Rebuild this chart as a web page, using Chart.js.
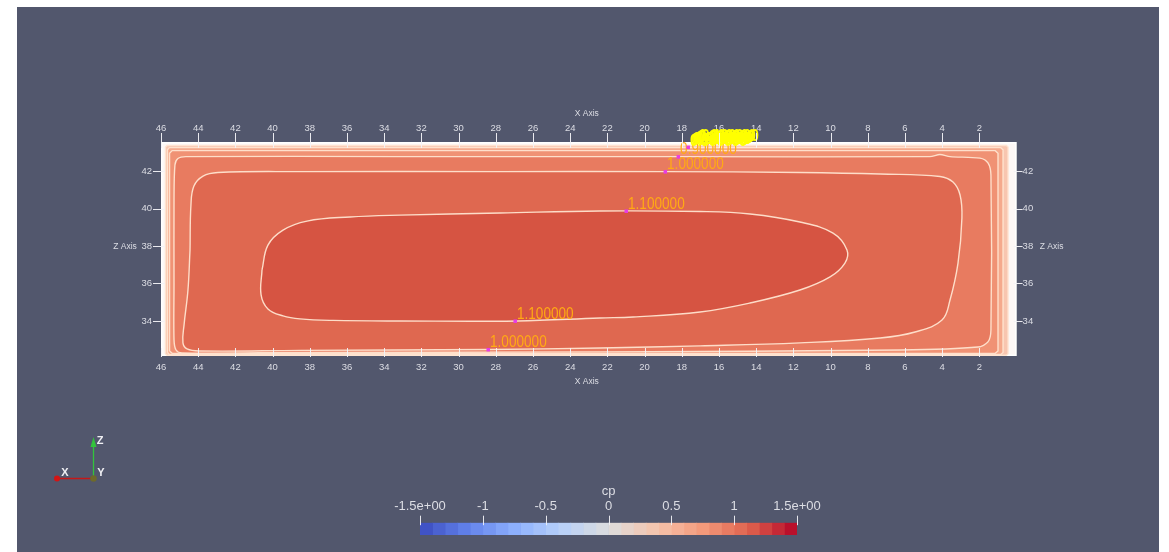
<!DOCTYPE html>
<html><head><meta charset="utf-8">
<script src="https://cdn.jsdelivr.net/npm/chart.js@4.4.1/dist/chart.umd.min.js"></script>
<style>
html,body{margin:0;padding:0;background:#ffffff;width:1169px;height:552px;overflow:hidden;}
#panel{position:absolute;left:17px;top:7px;width:1142px;height:545px;background:#52576d;}
#main{position:absolute;left:0;top:0;}
#cbar{position:absolute;left:370px;top:480px;}
</style></head><body>
<div id="panel"></div>
<canvas id="main" width="1169" height="552"></canvas>
<canvas id="cbar" width="480" height="60"></canvas>
<script>
// ---------------- data ----------------
const xTickValues = [46,44,42,40,38,36,34,32,30,28,26,24,22,20,18,16,14,12,10,8,6,4,2];
const zTickValues = [34,36,38,40,42];
const xRange = [0, 46];
const zRange = [32.13, 43.55];

const domainOutline = [[46,32.13],[46,43.55],[0,43.55],[0,32.13],[46,32.13]];
const contour06 = [[45.76,32.25],[45.76,43.28],[45.68,43.36],[0.55,43.36],[0.46,43.28],[0.46,32.25],[0.55,32.17],[45.68,32.17],[45.76,32.25]];
const contour07 = [[45.65,32.32],[45.65,43.14],[45.55,43.25],[0.85,43.25],[0.73,43.14],[0.73,32.32],[0.85,32.21],[45.55,32.21],[45.65,32.32]];
const contour08 = [[45.54,32.40],[45.54,42.95],[45.40,43.09],[1.15,43.09],[1.00,42.95],[1.00,32.40],[1.15,32.27],[45.40,32.27],[45.54,32.40]];
const contour09 = [[45.30,36.00],[45.30,40.45],[45.25,42.32],[45.09,42.67],[44.66,42.77],[33.15,42.77],[18.20,42.77],[4.66,42.77],[4.12,42.88],[3.58,42.77],[1.97,42.69],[1.54,42.43],[1.38,41.79],[1.38,33.52],[1.54,32.88],[2.08,32.61],[6.27,32.45],[22.40,32.35],[38.53,32.32],[44.87,32.29],[45.19,32.45],[45.30,32.99],[45.30,36.00]];
const contour10 = [[44.44,37.79],[44.39,40.19],[44.23,41.20],[43.74,41.73],[42.94,41.92],[38.53,41.97],[27.77,41.97],[18.90,41.97],[11.65,41.92],[7.34,41.84],[4.12,41.71],[3.42,41.41],[3.04,40.72],[2.94,39.49],[3.15,37.09],[3.58,35.12],[4.01,34.05],[5.46,33.41],[7.34,33.09],[11.65,32.83],[17.02,32.67],[22.40,32.56],[28.42,32.48],[38.53,32.43],[43.90,32.40],[44.60,32.51],[44.82,32.83],[44.76,33.79],[44.55,35.65],[44.44,37.79]];
const contour11 = [[40.57,36.72],[40.25,38.05],[39.44,38.85],[38.15,39.33],[35.84,39.55],[33.15,39.65],[27.77,39.76],[22.40,39.87],[17.02,39.84],[14.33,39.71],[11.65,39.28],[9.87,38.69],[9.12,37.79],[9.23,37.09],[10.03,36.35],[11.65,35.65],[14.33,34.96],[17.02,34.48],[20.62,34.21],[22.40,34.16],[26.86,34.00],[33.15,34.00],[36.75,34.03],[38.53,34.11],[39.44,34.27],[40.25,34.64],[40.62,35.39],[40.57,36.72]];

const labelTexts = ['1.100000','1.000000','1.100000','1.000000','0.900000'];
const labelX = [21.00, 18.90, 26.97, 28.42, 18.20];
const labelZ = [39.87, 41.97, 34.00, 32.48, 42.77];
const stackedLabelTexts = ['0.800000','0.700000','0.600000','0.500000','0.400000','0.300000','0.200000','0.100000'];
const stackedLabelX = [17.67, 17.59, 17.51, 17.42, 17.34, 17.26, 17.18, 17.02];
const stackedLabelZ = [43.28, 43.31, 43.34, 43.38, 43.42, 43.46, 43.50, 43.55];

const cpBinEdges = [-1.5,-1.4,-1.3,-1.2,-1.1,-1.0,-0.9,-0.8,-0.7,-0.6,-0.5,-0.4,-0.3,-0.2,-0.1,0,0.1,0.2,0.3,0.4,0.5,0.6,0.7,0.8,0.9,1.0,1.1,1.2,1.3,1.4,1.5];
const cpTickValues = [-1.5,-1,-0.5,0,0.5,1,1.5];
const cpTickLabels = ['-1.5e+00','-1','-0.5','0','0.5','1','1.5e+00'];

// ---------------- style ----------------
const FONT = '"Liberation Sans", Arial, sans-serif';
Chart.defaults.font.family = FONT;
const TEXT = '#dcdde4';
const LINE = 'rgba(255,228,208,0.95)';
const cmapStops = [[0,[59,76,192]],[0.125,[98,130,234]],[0.25,[141,176,254]],[0.375,[184,208,249]],[0.5,[221,221,221]],[0.625,[245,196,173]],[0.75,[244,154,123]],[0.875,[222,96,77]],[1,[180,4,38]]];
function cmap(t){
  for (let i=1;i<cmapStops.length;i++){
    const [t1,c1]=cmapStops[i]; const [t0,c0]=cmapStops[i-1];
    if (t<=t1){ const f=(t-t0)/(t1-t0); return 'rgb('+c0.map((c,k)=>Math.round(c+(c1[k]-c)*f)).join(',')+')'; }
  }
  return 'rgb(180,4,38)';
}

const pts = arr => arr.map(p => ({x:p[0], y:p[1]}));
const layers = [
  {d:contour11, c:'rgb(214,84,66)', t:0.4, o:1},
  {d:contour10, c:'rgb(223,104,80)', t:0.4, o:2},
  {d:contour09, c:'rgb(232,123,96)', t:0.3, o:3},
  {d:contour08, c:'rgb(240,146,116)', t:0, o:4},
  {d:contour07, c:'rgb(245,170,141)', t:0, o:5},
  {d:contour06, c:'rgb(248,198,176)', t:0, o:6},
  {d:domainOutline, c:'#fdf8f6', t:0, o:7, b:'#ffffff', w:3}
];

function axisX(pos, size, pad){
  return {type:'linear', axis:'x', position:pos, min:xRange[0], max:xRange[1], reverse:true,
    afterBuildTicks:s=>{s.ticks = xTickValues.map(v=>({value:v}));},
    afterFit:s=>{s.height = size;},
    grid:{display:false, drawTicks:false, tickLength:0}, border:{display:false},
    ticks:{stepSize:2, color:TEXT, font:{size:9.5}, padding:pad, maxRotation:0, autoSkip:false, callback:v=>String(v)}};
}
function axisZ(pos, size, pad){
  return {type:'linear', axis:'y', position:pos, min:zRange[0], max:zRange[1],
    afterBuildTicks:s=>{s.ticks = zTickValues.map(v=>({value:v}));},
    afterFit:s=>{s.width = size;},
    grid:{display:false, drawTicks:false, tickLength:0}, border:{display:false},
    ticks:{stepSize:2, color:TEXT, font:{size:9.5}, padding:pad, autoSkip:false, callback:v=>String(v)}};
}

function drawScaledText(ctx, txt, x, y, font, sx){
  ctx.save(); ctx.translate(x,y); ctx.scale(sx,1); ctx.font=font; ctx.fillText(txt,0,0); ctx.restore();
}

const overlay = {
  id:'overlay',
  afterDatasetsDraw(chart){
    const {ctx, scales:{x, y}} = chart;
    ctx.save();
    ctx.textAlign='left'; ctx.textBaseline='alphabetic';
    labelTexts.forEach((t,i)=>{
      const px=x.getPixelForValue(labelX[i]), py=y.getPixelForValue(labelZ[i]);
      ctx.fillStyle='#ffaa14';
      drawScaledText(ctx, t, px+2, py-2.4, '16px '+FONT, 0.85);
      ctx.fillStyle='#e63ce6'; ctx.fillRect(px-1.5, py-1.5, 3.5, 3.5);
    });
    ctx.fillStyle='#ffff00';
    stackedLabelTexts.forEach((t,i)=>{
      const px=x.getPixelForValue(stackedLabelX[i]), py=y.getPixelForValue(stackedLabelZ[i]);
      drawScaledText(ctx, t, px+2, py-1.5, 'bold 16px '+FONT, 0.85);
    });
    const p0x=x.getPixelForValue(stackedLabelX[0]), p0y=y.getPixelForValue(stackedLabelZ[0]);
    ctx.fillStyle='#e63ce6'; ctx.fillRect(p0x-1.5, p0y-1.5, 3.5, 3.5);
    ctx.restore();
  },
  afterDraw(chart){
    const {ctx, chartArea:a, scales:{x, y}} = chart;
    ctx.save();
    ctx.strokeStyle='rgba(242,242,247,0.95)'; ctx.lineWidth=1;
    ctx.beginPath();
    xTickValues.forEach(v=>{
      const p=Math.round(x.getPixelForValue(v))+0.5;
      ctx.moveTo(p,a.top-9); ctx.lineTo(p,a.top+6);
      ctx.moveTo(p,a.bottom-8); ctx.lineTo(p,a.bottom+1);
    });
    zTickValues.forEach(v=>{
      const p=Math.round(y.getPixelForValue(v))+0.5;
      ctx.moveTo(a.left-8,p); ctx.lineTo(a.left+4,p);
      ctx.moveTo(a.right-3,p); ctx.lineTo(a.right+6,p);
    });
    ctx.stroke();
    ctx.fillStyle=TEXT; ctx.font='8.5px '+FONT; ctx.textAlign='center'; ctx.textBaseline='middle';
    const cx=(a.left+a.right)/2, cy=(a.top+a.bottom)/2;
    ctx.fillText('X Axis', cx-2, a.top-28);
    ctx.fillText('X Axis', cx-2, a.bottom+26);
    ctx.fillText('Z Axis', a.left-36, cy-2);
    ctx.fillText('Z Axis', a.right+35, cy-2);
    // orientation triad (decoration)
    const ox=93.5, oy=478.5;
    ctx.lineWidth=1.3;
    ctx.strokeStyle='#33c43c'; ctx.beginPath(); ctx.moveTo(ox,oy); ctx.lineTo(ox,444); ctx.stroke();
    ctx.fillStyle='#33c43c'; ctx.beginPath(); ctx.moveTo(ox-3,447); ctx.lineTo(ox,437); ctx.lineTo(ox+3,447); ctx.closePath(); ctx.fill();
    ctx.strokeStyle='#c41818'; ctx.beginPath(); ctx.moveTo(ox,oy); ctx.lineTo(58,oy); ctx.stroke();
    ctx.fillStyle='#d41414'; ctx.beginPath(); ctx.arc(57,oy,3,0,Math.PI*2); ctx.fill();
    ctx.fillStyle='#6e6a2a'; ctx.beginPath(); ctx.arc(ox,oy,3.2,0,Math.PI*2); ctx.fill();
    ctx.fillStyle='#f0f0f4'; ctx.font='bold 11px '+FONT;
    ctx.fillText('Z', 100, 441); ctx.fillText('X', 65, 473); ctx.fillText('Y', 101, 473);
    ctx.restore();
  }
};

new Chart(document.getElementById('main'), {
  type:'line',
  data:{datasets: layers.map(L=>({
    data: pts(L.d), xAxisID:'x', yAxisID:'y', order:L.o,
    fill:'shape', backgroundColor:L.c, borderColor:L.b||LINE, borderWidth:L.w||1.4,
    tension:L.t, pointRadius:0
  }))},
  options:{
    responsive:false, animation:false, events:[],
    layout:{padding:0},
    plugins:{legend:{display:false}, tooltip:{enabled:false}},
    scales:{
      x: axisX('top', 142, 7.6),
      x2: axisX('bottom', 196, 5.6),
      y: axisZ('left', 161, 9),
      y2: axisZ('right', 152.4, 6)
    }
  },
  plugins:[overlay]
});

// ---------------- colour bar ----------------
const cbTicks = {
  id:'cbTicks',
  afterDraw(chart){
    const {ctx, chartArea:a, scales:{x}} = chart;
    ctx.save(); ctx.strokeStyle='rgba(238,238,243,0.95)'; ctx.lineWidth=1; ctx.beginPath();
    cpTickValues.forEach(v=>{const p=Math.round(x.getPixelForValue(v))+0.5; ctx.moveTo(p,a.top-7); ctx.lineTo(p,a.top+2.5);});
    ctx.stroke(); ctx.restore();
  }
};
new Chart(document.getElementById('cbar'), {
  type:'bar',
  data:{labels:['cp'], datasets: cpBinEdges.slice(0,-1).map((lo,i)=>({
    data:[[lo, cpBinEdges[i+1]]],
    backgroundColor: cmap(((lo+cpBinEdges[i+1])/2+1.5)/3),
    borderWidth:0, grouped:false, barPercentage:1, categoryPercentage:1
  }))},
  options:{
    indexAxis:'y', responsive:false, animation:false, events:[],
    layout:{padding:{left:50, right:53, top:0, bottom:5}},
    plugins:{legend:{display:false}, tooltip:{enabled:false}},
    scales:{
      x:{type:'linear', position:'top', min:-1.5, max:1.5,
        afterBuildTicks:s=>{s.ticks = cpTickValues.map(v=>({value:v}));},
        afterFit:s=>{s.height = 42.7;},
        grid:{display:false, drawTicks:false, tickLength:0}, border:{display:false},
        title:{display:true, text:'cp', color:TEXT, font:{size:13}, padding:{top:4, bottom:0}},
        ticks:{color:TEXT, font:{size:13}, padding:8.2, maxRotation:0, autoSkip:false, callback:(v,i)=>cpTickLabels[i]}},
      y:{display:false}
    }
  },
  plugins:[cbTicks]
});
</script></body></html>
